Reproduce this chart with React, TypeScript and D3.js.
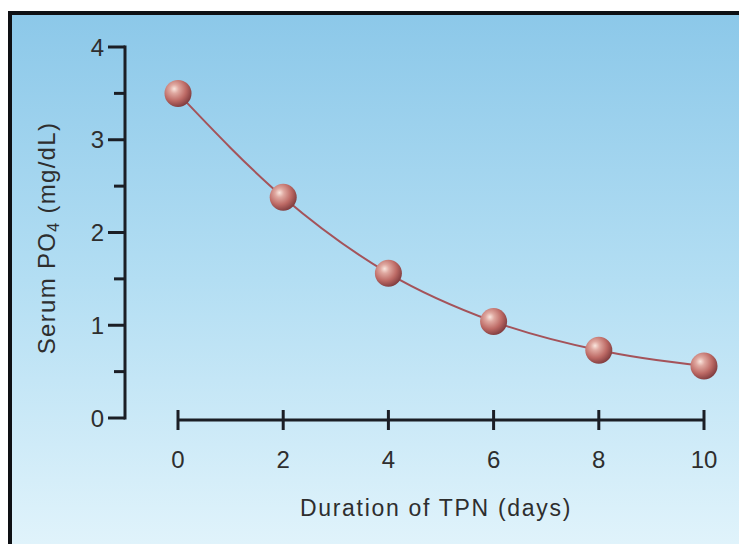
import React from "react";
import * as d3 from "d3";

const days = [0, 2, 4, 6, 8, 10];
const serumPO4 = [3.5, 2.38, 1.56, 1.04, 0.73, 0.56];
const xTicks = [0, 2, 4, 6, 8, 10];
const yMajorTicks = [0, 1, 2, 3, 4];
const yMinorTicks = [0.5, 1.5, 2.5, 3.5];

const W = 739;
const H = 544;

export default function App() {
  const x = d3.scaleLinear().domain([0, 10]).range([178, 704]);
  const y = d3.scaleLinear().domain([0, 4]).range([418, 47]);
  const line = d3
    .line<number>()
    .x((_, i) => x(days[i]))
    .y((d) => y(d))
    .curve(d3.curveMonotoneX);
  const axisColor = "#1b1e25";
  const textColor = "#2e2e2e";
  const font = "Liberation Sans, Arial, sans-serif";
  const xAxisY = 420;

  return (
    <svg
      width={W}
      height={H}
      style={{ position: "absolute", left: 0, top: 0, display: "block" }}
    >
      <defs>
        <linearGradient id="bg" x1="0" y1="0" x2="0" y2="1">
          <stop offset="0%" stopColor="#8cc8e9" />
          <stop offset="50%" stopColor="#b3def3" />
          <stop offset="100%" stopColor="#e0f3fb" />
        </linearGradient>
        <radialGradient id="ball" cx="0.38" cy="0.36" r="0.66" fx="0.36" fy="0.33">
          <stop offset="0%" stopColor="#fae6de" />
          <stop offset="25%" stopColor="#dfa8a0" />
          <stop offset="65%" stopColor="#bd6a65" />
          <stop offset="100%" stopColor="#823e40" />
        </radialGradient>
      </defs>
      <rect x={0} y={0} width={W} height={H} fill="#ffffff" />
      <rect x={12} y={15} width={W - 12} height={H - 15} fill="url(#bg)" />
      <rect x={8} y={11} width={W - 8} height={4} fill="#0e1014" />
      <rect x={8} y={11} width={4} height={H - 11} fill="#0e1014" />

      {/* Y axis */}
      <line x1={125} x2={125} y1={y(4) - 1.5} y2={y(0) + 1.5} stroke={axisColor} strokeWidth={3} />
      {yMajorTicks.map((t) => (
        <g key={"ym" + t}>
          <line x1={108} x2={125} y1={y(t)} y2={y(t)} stroke={axisColor} strokeWidth={3} />
          <text
            x={104}
            y={y(t)}
            dy="0.36em"
            textAnchor="end"
            fontFamily={font}
            fontSize={24}
            fill={textColor}
          >
            {t}
          </text>
        </g>
      ))}
      {yMinorTicks.map((t) => (
        <line key={"yn" + t} x1={114} x2={125} y1={y(t)} y2={y(t)} stroke={axisColor} strokeWidth={3} />
      ))}

      {/* X axis */}
      <line x1={x(0)} x2={x(10)} y1={xAxisY} y2={xAxisY} stroke={axisColor} strokeWidth={3} />
      {xTicks.map((t) => (
        <g key={"xt" + t}>
          <line x1={x(t)} x2={x(t)} y1={xAxisY - 10} y2={xAxisY + 10} stroke={axisColor} strokeWidth={3} />
          <text
            x={x(t)}
            y={459}
            dy="0.36em"
            textAnchor="middle"
            fontFamily={font}
            fontSize={24}
            fill={textColor}
          >
            {t}
          </text>
        </g>
      ))}

      <text
        x={436}
        y={508}
        dy="0.36em"
        textAnchor="middle"
        fontFamily={font}
        fontSize={23}
        letterSpacing={1.7}
        fill={textColor}
      >
        Duration of TPN (days)
      </text>

      <text
        transform={`translate(46, 238) rotate(-90)`}
        textAnchor="middle"
        dy="0.36em"
        fontFamily={font}
        fontSize={24}
        letterSpacing={1.3}
        fill={textColor}
      >
        Serum PO
        <tspan fontSize={16} dy="0.25em">4</tspan>
        <tspan dy="-0.17em"> (mg/dL)</tspan>
      </text>

      {/* Curve */}
      <path d={line(serumPO4) || ""} fill="none" stroke="#a4535a" strokeWidth={2} />

      {/* Points */}
      {serumPO4.map((v, i) => (
        <circle key={"p" + i} cx={x(days[i])} cy={y(v)} r={13.5} fill="url(#ball)" />
      ))}
    </svg>
  );
}
